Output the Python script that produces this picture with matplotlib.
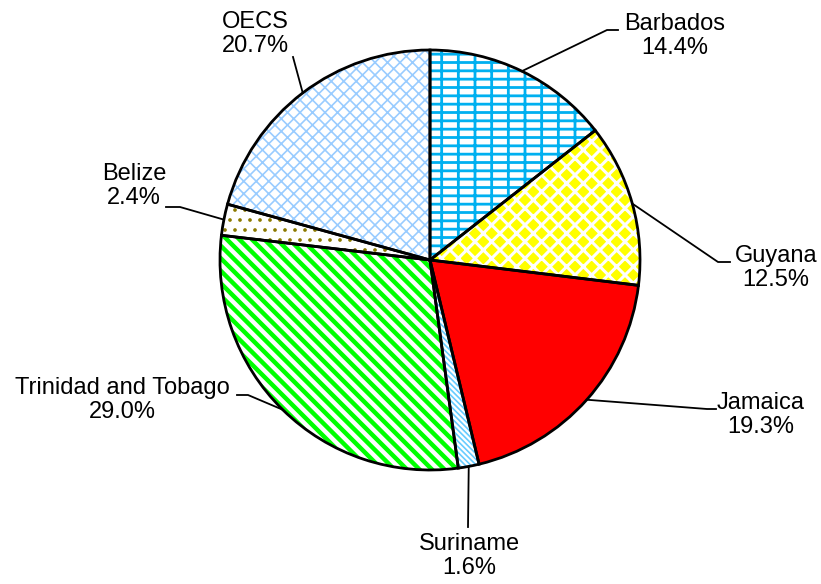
import matplotlib.pyplot as plt
from matplotlib.backend_bases import GraphicsContextBase
import numpy as np

plt.rcParams['font.family'] = ['Liberation Sans', 'DejaVu Sans']

# finer control over hatch spacing: each hatch char gives 2 lines per inch
_hatch_path = GraphicsContextBase.get_hatch_path
GraphicsContextBase.get_hatch_path = lambda self, density=2.0: _hatch_path(self, density)

countries = ["Barbados", "Guyana", "Jamaica", "Suriname",
             "Trinidad and Tobago", "Belize", "OECS"]
shares = [14.4, 12.5, 19.3, 1.6, 29.0, 2.4, 20.7]

face_cols = ["white", "#FFFF00", "#FF0000", "white", "white", "white", "white"]
hatch_cols = ["#00B0F0", "white", "#FF0000", "#66CCFF", "#00FF00", "#8C7A00", "#99CCFF"]
hatches = ["------|||", "x" * 6, "", "\\" * 18, "\\" * 8, "." * 5, "x" * 8]
hatch_lw = [2.0, 2.2, 1.0, 1.2, 3.2, 1.2, 1.2]

W, H = 821, 584
# label layout in pixel coords (y down): text centre, elbow, end of leader
text_pos = [(675, 36), (776, 268), (761, 415), (469, 556), (122, 400), (134, 186), (255, 34)]
elbow = [(607, 30), (718, 262), (707, 409), (468, 527), (248, 395), (180, 207), (293, 57)]
end = [(618, 30), (730, 262), (716, 409), (468, 527), (237, 395), (166, 207), (293, 57)]

cx, cy, r = 430, H - 260, 210

fig = plt.figure(figsize=(8.21, 5.84), dpi=100)
ax = fig.add_axes([0, 0, 1, 1])

wedges, _ = ax.pie(shares, center=(cx, cy), radius=r, startangle=90,
                   counterclock=False, colors=face_cols,
                   wedgeprops=dict(linewidth=0))
for w, h, c, lw in zip(wedges, hatches, hatch_cols, hatch_lw):
    w.set_edgecolor(c)
    if h:
        w.set_hatch(h)
    if hasattr(w, "set_hatch_linewidth"):
        w.set_hatch_linewidth(lw)

ax.pie(shares, center=(cx, cy), radius=r, startangle=90, counterclock=False,
       colors=["none"] * len(shares),
       wedgeprops=dict(linewidth=2, edgecolor="black"))

# leader lines from wedge middle to label
cum = np.cumsum([0] + shares[:-1])
total = sum(shares)
for i, name in enumerate(countries):
    mid = cum[i] + shares[i] / 2
    ang = np.deg2rad(90 - mid / total * 360)
    px, py = cx + r * np.cos(ang), cy + r * np.sin(ang)
    ex, ey = elbow[i]
    tx, ty = end[i]
    ax.plot([px, ex, tx], [py, H - ey, H - ty], color="black", lw=1.3)
    ax.text(text_pos[i][0], H - text_pos[i][1], f"{name}\n{shares[i]:.1f}%",
            ha="center", va="center", fontsize=17, linespacing=1.15)

ax.set_xlim(0, W)
ax.set_ylim(0, H)
ax.set_aspect("equal")
ax.axis("off")

fig.savefig("out.png", dpi=100, facecolor="white")
